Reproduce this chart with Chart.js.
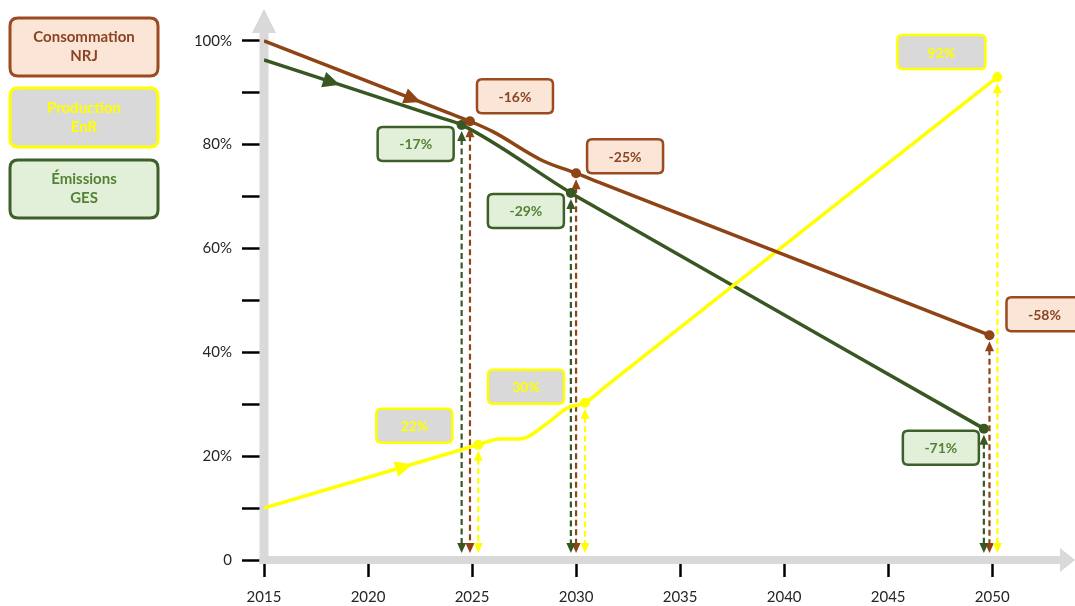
<!DOCTYPE html>
<html><head><meta charset="utf-8">
<script src="https://cdn.jsdelivr.net/npm/chart.js@4.4.1/dist/chart.umd.min.js"></script>
<style>html,body{margin:0;padding:0;background:#fff;overflow:hidden}#wrap{width:1075px;height:606px;position:relative}</style>
</head><body><div id="wrap"><canvas id="c" width="1075" height="606"></canvas></div>
<script>
// ---- data ----
const legendNames = [['Consommation','NRJ'],['Production','EnR'],['Émissions','GES']];
const xTickYears = [2015,2020,2025,2030,2035,2040,2045,2050];

const nrjYears  = [2015, 2023.8, 2024.9, 2026.0, 2028.4, 2030.0, 2031.2, 2049.87];
const nrjValues = [100, 86.2, 84.5, 82.5, 76.9, 74.5, 72.6, 43.3];
const nrjMarkers = [2, 5, 7];
const nrjLabels = ['-16%', '-25%', '-58%'];

const enrYears  = [2015, 2024.2, 2025.3, 2026.35, 2027.3, 2028.6, 2029.55, 2030.43, 2031.5, 2050.25];
const enrValues = [10, 20.9, 22.2, 23.3, 23.3, 26.3, 29.2, 30.3, 33.7, 93];
const enrMarkers = [2, 7, 9];
const enrLabels = ['22%', '30%', '92%'];

const gesYears  = [2015, 2023.4, 2024.5, 2029.75, 2031.0, 2049.6];
const gesValues = [96.3, 85.3, 83.8, 70.7, 67.8, 25.3];
const gesMarkers = [2, 3, 5];
const gesLabels = ['-17%', '-29%', '-71%'];

// ---- styles ----
const FONT = "Lato, 'Open Sans', 'Liberation Sans', sans-serif";
const S = [
  {line:'#8E4414', box:'#FBE5D6', border:'#9A4B20', text:'#8A4424', arrowFrac:0.725,
   boxes:[{dx:45,dy:-25,w:76},{dx:49,dy:-17,w:76},{dx:55,dy:-21,w:76}]},
  {line:'#FFFF00', box:'#D9D9D9', border:'#FFFF00', text:'#FFFF00', arrowFrac:0.656,
   boxes:[{dx:-64,dy:-19,w:76},{dx:-59,dy:-16,w:76},{dx:-56,dy:-25,w:88}]},
  {line:'#385723', box:'#E2F0D9', border:'#3D5F28', text:'#548235', arrowFrac:0.345,
   boxes:[{dx:-46,dy:19,w:76},{dx:-45,dy:18,w:76},{dx:-43,dy:19,w:76}]}
];
const markers = [nrjMarkers, enrMarkers, gesMarkers];
const labels = [nrjLabels, enrLabels, gesLabels];

function pts(xs, ys){ return xs.map((x,i)=>({x:x, y:ys[i]})); }
function rr(ctx,x,y,w,h,r){
  ctx.beginPath();
  ctx.moveTo(x+r,y); ctx.lineTo(x+w-r,y); ctx.quadraticCurveTo(x+w,y,x+w,y+r);
  ctx.lineTo(x+w,y+h-r); ctx.quadraticCurveTo(x+w,y+h,x+w-r,y+h);
  ctx.lineTo(x+r,y+h); ctx.quadraticCurveTo(x,y+h,x,y+h-r);
  ctx.lineTo(x,y+r); ctx.quadraticCurveTo(x,y,x+r,y); ctx.closePath();
}
function tri(ctx, tx, ty, ang, len, half){
  const c=Math.cos(ang), s=Math.sin(ang);
  const bx=tx-c*len, by=ty-s*len;
  ctx.beginPath(); ctx.moveTo(tx,ty);
  ctx.lineTo(bx - s*half, by + c*half);
  ctx.lineTo(bx + s*half, by - c*half);
  ctx.closePath(); ctx.fill();
}

const decor = {
  id:'decor',
  beforeDatasetsDraw(chart){
    const ctx=chart.ctx, ca=chart.chartArea;
    ctx.save();
    ctx.fillStyle='#D9D9D9';
    ctx.fillRect(ca.left-4.5, ca.top+13, 9, ca.bottom-ca.top-9);
    ctx.beginPath(); ctx.moveTo(ca.left-12, ca.top+13); ctx.lineTo(ca.left+12, ca.top+13); ctx.lineTo(ca.left, ca.top-11); ctx.closePath(); ctx.fill();
    ctx.fillRect(ca.left-4.5, ca.bottom-4, 1060-(ca.left-4.5), 8);
    ctx.beginPath(); ctx.moveTo(1060, ca.bottom-12); ctx.lineTo(1060, ca.bottom+12); ctx.lineTo(1075, ca.bottom); ctx.closePath(); ctx.fill();
    chart.data.datasets.forEach((ds, di)=>{
      const meta=chart.getDatasetMeta(di);
      const col=S[di].line;
      markers[di].forEach(idx=>{
        const p=meta.data[idx];
        const x=p.x, yTop=p.y+6, yBot=ca.bottom-7;
        ctx.strokeStyle=col; ctx.fillStyle=col; ctx.lineWidth=2.2;
        ctx.setLineDash([6,3.5]);
        ctx.beginPath(); ctx.moveTo(x, yTop+8); ctx.lineTo(x, yBot-8); ctx.stroke();
        ctx.setLineDash([]);
        tri(ctx, x, yTop, -Math.PI/2, 10, 4.5);
        tri(ctx, x, yBot, Math.PI/2, 10, 4.5);
      });
    });
    ctx.restore();
  },
  afterDatasetsDraw(chart){
    const ctx=chart.ctx;
    ctx.save();
    chart.data.datasets.forEach((ds, di)=>{
      const meta=chart.getDatasetMeta(di);
      const st=S[di];
      const a=meta.data[0], b=meta.data[markers[di][0]];
      const f=st.arrowFrac;
      const ax=a.x+(b.x-a.x)*f, ay=a.y+(b.y-a.y)*f;
      const ang=Math.atan2(b.y-a.y, b.x-a.x);
      ctx.fillStyle=st.line;
      tri(ctx, ax+Math.cos(ang)*8, ay+Math.sin(ang)*8, ang, 17, 8);
      markers[di].forEach((idx,k)=>{
        const p=meta.data[idx], bx=st.boxes[k];
        const w=bx.w, h=34, cx=p.x+bx.dx, cy=p.y+bx.dy;
        rr(ctx, cx-w/2, cy-h/2, w, h, 5);
        ctx.fillStyle=st.box; ctx.fill();
        ctx.lineWidth=2.5; ctx.strokeStyle=st.border; ctx.stroke();
        ctx.fillStyle=st.text; ctx.font='bold 14px '+FONT;
        ctx.textAlign='center'; ctx.textBaseline='middle';
        ctx.fillText(labels[di][k], cx, cy+1);
      });
    });
    ctx.restore();
  },
  afterDraw(chart){
    const ctx=chart.ctx;
    ctx.save();
    const boxes=[{y:18,h:58},{y:88,h:59},{y:160,h:58}];
    boxes.forEach((b,i)=>{
      const st=S[i];
      rr(ctx, 10, b.y, 148, b.h, 8);
      ctx.fillStyle=st.box; ctx.fill();
      ctx.lineWidth=3; ctx.strokeStyle=st.border; ctx.stroke();
      ctx.fillStyle=st.text; ctx.font='bold 15px '+FONT;
      ctx.textAlign='center'; ctx.textBaseline='middle';
      const cy=b.y+b.h/2;
      ctx.fillText(legendNames[i][0], 84, cy-9.5);
      ctx.fillText(legendNames[i][1], 84, cy+9.5);
    });
    ctx.restore();
  }
};

const mkDs = (xs, ys, mk, col) => ({
  data: pts(xs, ys), borderColor: col, backgroundColor: col, borderWidth: 3.5,
  pointRadius: c => mk.includes(c.dataIndex) ? 5 : 0,
  pointHoverRadius: 0, pointBackgroundColor: col, pointBorderWidth: 0,
  cubicInterpolationMode: 'monotone', fill: false
});

new Chart(document.getElementById('c'), {
  type: 'line',
  data: { datasets: [
    mkDs(nrjYears, nrjValues, nrjMarkers, S[0].line),
    mkDs(enrYears, enrValues, enrMarkers, S[1].line),
    mkDs(gesYears, gesValues, gesMarkers, S[2].line)
  ]},
  options: {
    responsive: false, devicePixelRatio: 1, animation: false,
    layout: { padding: { top: 20, right: 10, left: 0, bottom: 0 } },
    plugins: { legend: { display: false }, tooltip: { enabled: false } },
    events: [],
    scales: {
      x: { type: 'linear', min: 2015, max: 2053.5,
        afterFit(s){ s.height = 46; s.paddingLeft = 0; s.paddingRight = 0; },
        afterBuildTicks(s){ s.ticks = xTickYears.map(v => ({value: v})); },
        ticks: { autoSkip: false, maxRotation: 0, padding: 11, color: '#262626',
          font: { family: FONT, size: 15 }, callback: v => String(v) },
        grid: { drawOnChartArea: false, drawTicks: true, tickLength: 17, tickColor: '#000', tickWidth: 2.5 },
        border: { display: false }
      },
      y: { min: 0, max: 104,
        afterFit(s){ s.width = 264; s.paddingTop = 0; s.paddingBottom = 0; },
        ticks: { stepSize: 10, includeBounds: false, autoSkip: false, padding: 10, color: '#262626',
          font: { family: FONT, size: 15 },
          callback: v => (v % 20 === 0) ? (v === 0 ? '0' : v + '%') : '' },
        grid: { drawOnChartArea: false, drawTicks: true, tickLength: 22, tickColor: '#000', tickWidth: 2.5 },
        border: { display: false }
      }
    }
  },
  plugins: [decor]
});
</script>
</body></html>
